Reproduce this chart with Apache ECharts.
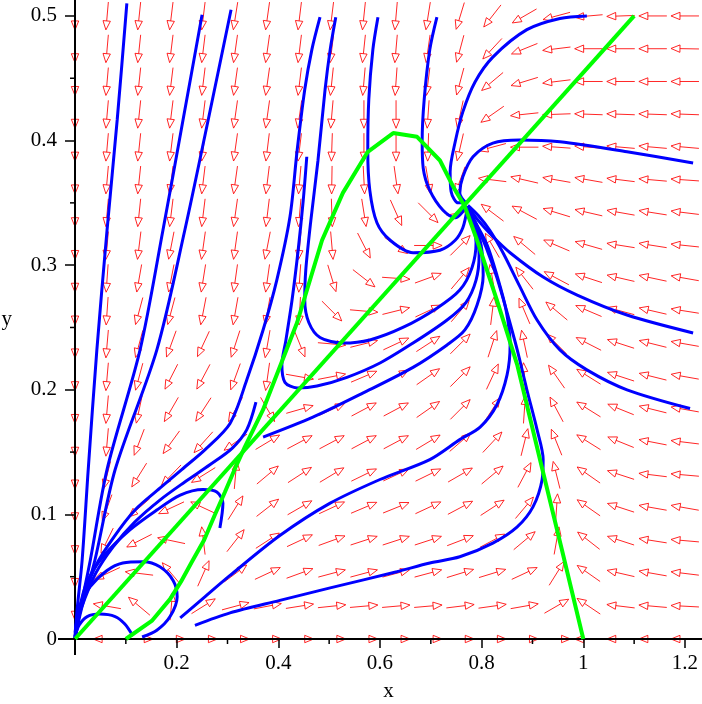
<!DOCTYPE html>
<html><head><meta charset="utf-8">
<script src="https://cdn.jsdelivr.net/npm/echarts@6/dist/echarts.min.js"></script>
<style>html,body{margin:0;padding:0;background:#fff}#c{width:702px;height:704px}</style>
</head><body><div id="c"></div>
<script>
// ---- axis ticks ----
const xMajorTicks = [0, 0.2, 0.4, 0.6, 0.8, 1, 1.2];
const xLabelValues = [0.2, 0.4, 0.6, 0.8, 1, 1.2];
const xMinorTicks = [0.1, 0.3, 0.5, 0.7, 0.9, 1.1];
const yMajorTicks = [0, 0.1, 0.2, 0.3, 0.4, 0.5];
const yMinorTicks = [0.05, 0.15, 0.25, 0.35, 0.45];

// ---- direction field grid ----
const gridX = [0,0.0632,0.1263,0.1895,0.2526,0.3158,0.3789,0.4421,0.5053,0.5684,0.6316,0.6947,0.7579,0.8211,0.8842,0.9474,1.0105,1.0737,1.1368,1.2];
const gridY = [0,0.0263,0.0526,0.0789,0.1053,0.1316,0.1579,0.1842,0.2105,0.2368,0.2632,0.2895,0.3158,0.3421,0.3684,0.3947,0.4211,0.4474,0.4737,0.5];
// arrow direction (degrees, 0 = right, 90 = up) read per grid row (bottom row first)
const arrowAngles = [
 [null,180,0,0,0,0,0,0,0,0,0,0,0,0,0,0,180,180,180,180],
 [270,170,140,85,32,15,11,9,6,5,5,5,7,8,10,30,146,173,175,177],
 [270,205,173,130,66,37,25,20,15,15,15,15,17,17,25,58,145,167,170,173],
 [270,244,207,168,97,52,33,25,20,18,18,18,21,28,40,80,142,162,171,175],
 [270,250,221,205,155,58,38,30,25,23,22,25,28,33,50,86,145,162,170,170],
 [270,256,238,226,212,85,40,33,31,26,25,26,30,40,62,104,145,162,173,175],
 [270,265,249,234,228,215,31,28,28,28,28,31,41,47,76,112,148,158,169,173],
 [270,265,258,240,237,240,300,16,25,28,28,35,45,57,86,118,148,158,166,170],
 [270,265,255,243,242,250,262,350,11,23,28,35,45,65,94,125,148,162,166,170],
 [270,265,255,250,245,252,260,292,355,14,25,33,45,72,102,135,153,162,166,170],
 [270,266,255,255,259,260,260,267,315,355,14,25,50,83,113,140,157,165,167,171],
 [270,266,260,259,261,262,262,266,287,322,356,20,50,100,128,152,162,167,168,170],
 [270,265,263,259,262,262,259,265,275,297,325,0,45,120,140,157,164,171,171,174],
 [270,265,264,263,263,262,263,265,272,279,294,315,10,143,152,163,167,170,171,173],
 [270,265,264,263,263,262,263,265,269,273,278,280,250,173,167,170,170,173,175,176],
 [270,265,264,263,263,262,263,263,268,270,270,268,257,195,180,176,175,175,175,175],
 [270,265,264,263,263,262,262,262,265,270,270,266,258,215,186,182,178,178,178,178],
 [270,265,264,263,263,262,262,263,264,265,266,263,255,220,197,187,180,180,180,180],
 [270,265,264,263,263,262,262,263,263,264,265,262,255,227,202,187,180,180,180,179],
 [270,265,264,263,263,261,262,263,263,264,265,261,253,232,210,195,185,182,180,180]
];

// ---- nullclines (green) ----
const nullclineLine = [[0,0],[1.1,0.5]];
const nullclineCurve = [[0.1,0],[0.151,0.0145],[0.187,0.032],[0.2085,0.046],[0.23,0.062],[0.254,0.0795],[0.275,0.0995],[0.295,0.118],[0.315,0.137],[0.334,0.154],[0.37,0.184],[0.437,0.254],[0.486,0.32],[0.527,0.358],[0.576,0.391],[0.626,0.406],[0.673,0.403],[0.718,0.384],[0.744,0.363],[0.767,0.347],[0.791,0.32],[0.83,0.272],[0.87,0.22],[0.915,0.1437],[0.958,0.0714],[1.0,0]];

// ---- trajectories (blue) ----
const trajA1 = [[0.102,0.51],[0.083,0.4165],[0.063,0.328],[0.043,0.232],[0.026,0.136],[0.014,0.063],[0.004,0.023],[0,0]];
const trajA2 = [[0.25,0.501],[0.2125,0.4165],[0.173,0.328],[0.128,0.232],[0.063,0.136],[0.03,0.063],[0.01,0.023],[0,0]];
const trajA3 = [[0.307,0.505],[0.262,0.4165],[0.216,0.328],[0.161,0.232],[0.079,0.136],[0.039,0.063],[0.012,0.023],[0,0]];
const trajLa = [[0.482,0.499],[0.466,0.473],[0.452,0.441],[0.437,0.392],[0.423,0.339],[0.397,0.288],[0.37,0.248],[0.338,0.208],[0.305,0.173],[0.256,0.152],[0.21,0.136],[0.167,0.121],[0.118,0.1035],[0.075,0.081],[0.041,0.059],[0.018,0.035],[0.004,0.015],[0,0]];
const trajS1 = [[0.356,0.19],[0.338,0.168],[0.309,0.153],[0.266,0.14],[0.216,0.126],[0.167,0.1115],[0.118,0.094],[0.075,0.074],[0.041,0.053],[0.018,0.031],[0.004,0.014],[0,0]];
const trajH1 = [[0.285,0.089],[0.291,0.109],[0.279,0.118],[0.252,0.12],[0.207,0.1155],[0.161,0.1035],[0.108,0.0875],[0.055,0.066],[0.024,0.046],[0.008,0.023],[0,0]];
const trajLoop1 = [[0.132,0.0016],[0.161,0.007],[0.187,0.018],[0.201,0.034],[0.193,0.047],[0.167,0.058],[0.134,0.062],[0.094,0.061],[0.063,0.055],[0.03,0.042],[0.01,0.027],[0,0.005]];
const trajLoop2 = [[0.114,0.0024],[0.098,0.012],[0.079,0.018],[0.049,0.02],[0.024,0.018],[0.008,0.011],[0,0.002]];
const trajR1 = [[1.007,0.5],[0.954,0.498],[0.889,0.489],[0.822,0.467],[0.787,0.447],[0.763,0.423],[0.748,0.399],[0.738,0.375],[0.74,0.359],[0.754,0.35],[0.769,0.35]];
const trajR2 = [[1.216,0.382],[1.086,0.391],[0.954,0.399],[0.875,0.4005],[0.822,0.398],[0.783,0.387],[0.763,0.371],[0.757,0.358],[0.769,0.35]];
const trajR3 = [[1.216,0.2456],[1.086,0.26],[0.988,0.276],[0.921,0.2905],[0.856,0.31],[0.822,0.323],[0.793,0.336],[0.773,0.347]];
const trajR4 = [[1.21,0.185],[1.086,0.2],[1.007,0.216],[0.954,0.232],[0.909,0.256],[0.875,0.283],[0.842,0.31],[0.816,0.328],[0.793,0.34],[0.773,0.348]];
const trajR5 = [[0.236,0.011],[0.305,0.021],[0.403,0.031],[0.502,0.041],[0.633,0.054],[0.698,0.061],[0.757,0.066],[0.822,0.077],[0.87,0.09],[0.901,0.106],[0.919,0.128],[0.921,0.144],[0.909,0.168],[0.889,0.2],[0.87,0.232],[0.85,0.262],[0.83,0.29],[0.809,0.314],[0.789,0.333],[0.773,0.346]];
const trajR6 = [[0.207,0.017],[0.256,0.034],[0.305,0.051],[0.403,0.083],[0.502,0.109],[0.6,0.128],[0.698,0.144],[0.757,0.16],[0.797,0.17],[0.83,0.188],[0.85,0.212],[0.856,0.236],[0.848,0.264],[0.83,0.292],[0.811,0.316],[0.787,0.335],[0.771,0.347]];
const trajU1 = [[0.596,0.499],[0.586,0.473],[0.578,0.433],[0.576,0.392],[0.58,0.36],[0.594,0.334],[0.62,0.32],[0.665,0.31],[0.718,0.312],[0.748,0.32],[0.763,0.33],[0.771,0.344]];
const trajU2 = [[0.712,0.499],[0.698,0.473],[0.687,0.433],[0.683,0.4],[0.685,0.378],[0.698,0.36],[0.724,0.344],[0.748,0.338],[0.763,0.343],[0.769,0.348]];
const trajLb = [[0.513,0.499],[0.502,0.473],[0.492,0.441],[0.478,0.384],[0.464,0.336],[0.454,0.296],[0.452,0.272],[0.46,0.254],[0.482,0.242],[0.527,0.2375],[0.58,0.24],[0.645,0.25],[0.712,0.2655],[0.757,0.28],[0.781,0.298],[0.789,0.318],[0.781,0.336],[0.771,0.347]];
const trajLc = [[0.456,0.387],[0.449,0.352],[0.439,0.312],[0.427,0.272],[0.415,0.24],[0.407,0.22],[0.413,0.206],[0.437,0.2015],[0.476,0.203],[0.535,0.21],[0.6,0.2215],[0.665,0.2375],[0.732,0.256],[0.769,0.27],[0.789,0.288],[0.795,0.308],[0.787,0.33],[0.773,0.346]];
const trajM3 = [[0.37,0.162],[0.468,0.178],[0.567,0.1975],[0.665,0.218],[0.732,0.236],[0.767,0.248],[0.791,0.268],[0.803,0.292],[0.799,0.316],[0.785,0.335],[0.771,0.347]];

const trajectories = [trajA1,trajA2,trajA3,trajLa,trajS1,trajH1,trajLoop1,trajLoop2,trajR1,trajR2,trajR3,trajR4,trajR5,trajR6,trajU1,trajU2,trajLb,trajLc,trajM3];

// ---- build ----
const arrowData = [];
for (let j = 0; j < gridY.length; j++) {
  for (let i = 0; i < gridX.length; i++) {
    const a = arrowAngles[j][i];
    if (a !== null) arrowData.push([gridX[i], gridY[j], a]);
  }
}

const X_MAX = 1.2335, Y_MAX = 0.5128;
const FONT = 'Liberation Serif';
const axisLineStyle = {color: '#000', width: 2};
const ARROW_COLOR = 'rgba(255,0,0,0.85)';

const series = [];
series.push({
  type: 'custom', z: 0, silent: true, clip: false,
  data: arrowData,
  renderItem: function (params, api) {
    const c = api.coord([api.value(0), api.value(1)]);
    const a = api.value(2) * Math.PI / 180;
    const ux = Math.cos(a), uy = -Math.sin(a);
    const L = 28, H = 9, W = 3.7;
    const tx = c[0] + ux * L / 2, ty = c[1] + uy * L / 2;
    const sx = c[0] - ux * L / 2, sy = c[1] - uy * L / 2;
    const bx = tx - ux * H, by = ty - uy * H;
    const nx = -uy, ny = ux;
    return {type: 'group', children: [
      {type: 'line', shape: {x1: sx, y1: sy, x2: bx, y2: by}, style: {stroke: ARROW_COLOR, lineWidth: 1}},
      {type: 'polygon', shape: {points: [[tx, ty], [bx + nx * W, by + ny * W], [bx - nx * W, by - ny * W]]},
        style: {fill: 'none', stroke: ARROW_COLOR, lineWidth: 1}}
    ]};
  }
});
trajectories.forEach(function (t) {
  series.push({type: 'line', data: t, showSymbol: false, smooth: 0.3, z: 3, silent: true, clip: false,
    lineStyle: {color: '#0000ff', width: 3}});
});
[nullclineLine, nullclineCurve].forEach(function (t) {
  series.push({type: 'line', data: t, showSymbol: false, smooth: false, z: 4, silent: true, clip: false,
    lineStyle: {color: '#00ff00', width: 4}});
});

const chart = echarts.init(document.getElementById('c'), null, {renderer: 'canvas'});
chart.setOption({
  animation: false,
  backgroundColor: '#fff',
  grid: {left: 75, right: 0, top: 0, bottom: 65, containLabel: false, outerBoundsMode: 'none'},
  xAxis: {
    type: 'value', min: 0, max: X_MAX, position: 'bottom', z: 2,
    axisLine: {show: true, onZero: false, lineStyle: axisLineStyle},
    axisTick: {show: true, length: 9, customValues: xMajorTicks, lineStyle: {color: '#000', width: 1.5}},
    axisLabel: {show: true, customValues: xLabelValues, margin: 14, color: '#000', fontFamily: FONT, fontSize: 21},
    splitLine: {show: false},
    name: 'x', nameLocation: 'middle', nameGap: 42,
    nameTextStyle: {color: '#000', fontFamily: FONT, fontSize: 21}
  },
  yAxis: {
    type: 'value', min: 0, max: Y_MAX, position: 'left', z: 2,
    axisLine: {show: true, onZero: false, lineStyle: axisLineStyle},
    axisTick: {show: true, length: 10, customValues: yMajorTicks, lineStyle: {color: '#000', width: 1.5}},
    axisLabel: {show: true, customValues: yMajorTicks, margin: 18, color: '#000', fontFamily: FONT, fontSize: 21},
    splitLine: {show: false},
    name: 'y', nameLocation: 'middle', nameGap: 63, nameRotate: 0,
    nameTextStyle: {color: '#000', fontFamily: FONT, fontSize: 21}
  },
  series: series
});

// minor ticks and the axis extensions past the origin (axis decoration)
const px = function (v) { return chart.convertToPixel({xAxisIndex: 0, yAxisIndex: 0}, v); };
const o = px([0, 0]);
const deco = [];
xMinorTicks.forEach(function (v) {
  const p = px([v, 0]);
  deco.push({type: 'line', shape: {x1: p[0], y1: o[1], x2: p[0], y2: o[1] + 5}, style: {stroke: '#000', lineWidth: 1.5}, z: 10});
});
yMinorTicks.forEach(function (v) {
  const p = px([0, v]);
  deco.push({type: 'line', shape: {x1: o[0] - 5, y1: p[1], x2: o[0], y2: p[1]}, style: {stroke: '#000', lineWidth: 1.5}, z: 10});
});
deco.push({type: 'line', shape: {x1: o[0] - 17, y1: o[1], x2: o[0], y2: o[1]}, style: {stroke: '#000', lineWidth: 2}, z: 10});
deco.push({type: 'line', shape: {x1: o[0], y1: o[1], x2: o[0], y2: o[1] + 16}, style: {stroke: '#000', lineWidth: 2}, z: 10});
chart.setOption({graphic: deco});
</script>
</body></html>
